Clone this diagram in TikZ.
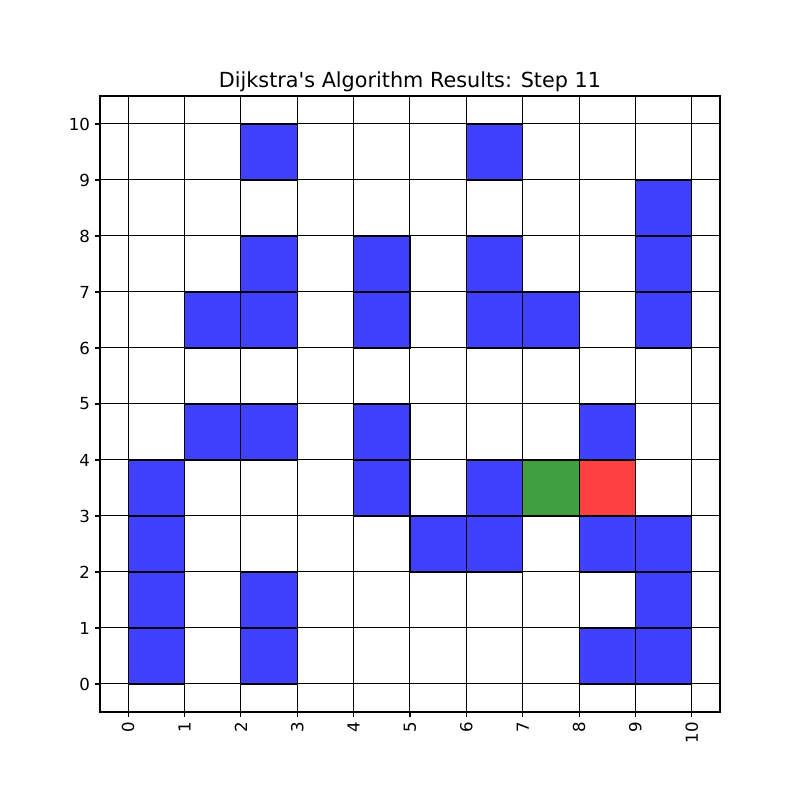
\documentclass[tikz,border=0pt]{standalone}
\usepackage{fontspec}
\setmainfont{DejaVu Sans}
\usetikzlibrary{positioning}

\definecolor{wallblue}{HTML}{4040FF}
\definecolor{startgreen}{HTML}{40A040}
\definecolor{goalred}{HTML}{FF4040}

\begin{document}
\begin{tikzpicture}[
    x=0.5636in, y=0.56in,
    gridline/.style={draw=black, line width=0.72pt},
    spine/.style={draw=black, line width=0.8pt},
    tickmark/.style={draw=black, line width=0.8pt},
    cell/.style={draw=black, line width=0.8pt},
    wall/.style={cell, fill=wallblue},
    startcell/.style={cell, fill=startgreen},
    goalcell/.style={cell, fill=goalred},
    ticklabel/.style={font=\fontsize{12}{14}\selectfont, inner sep=0pt}
]
\useasboundingbox (-2.2743,-2.0714) rectangle (11.920,12.214);

% walls
\foreach \cx/\cy in {2/9, 6/9, 9/8, 2/7, 4/7, 6/7, 9/7,
    1/6, 2/6, 4/6, 6/6, 7/6, 9/6,
    1/4, 2/4, 4/4, 8/4,
    0/3, 4/3, 6/3,
    0/2, 5/2, 6/2, 8/2, 9/2,
    0/1, 2/1, 9/1,
    0/0, 2/0, 8/0, 9/0}
  \draw[wall] (\cx,\cy) rectangle ++(1,1);

% start and goal
\draw[startcell] (7,3) rectangle ++(1,1);
\draw[goalcell] (8,3) rectangle ++(1,1);

% grid
\foreach \k in {0,...,10} {
  \draw[gridline] (\k,-0.5) -- (\k,10.5);
  \draw[gridline] (-0.5,\k) -- (10.5,\k);
}

% axes frame
\draw[spine] (-0.5,-0.5) rectangle (10.5,10.5);

% ticks and labels
\foreach \k in {0,...,10} {
  \draw[tickmark] (\k,-0.5) -- ++(0,-3.5pt);
  \node[ticklabel, rotate=90, anchor=east] (xl\k)
    at ([yshift=-7pt]\k,-0.5) {\k};
  \draw[tickmark] (-0.5,\k) -- ++(-3.5pt,0);
  \node[ticklabel, anchor=east] (yl\k)
    at ([xshift=-7pt]-0.5,\k) {\k};
}

\node[font=\fontsize{15}{18}\selectfont, inner sep=0pt, anchor=base] (title)
  at (5,10.649) {Dijkstra\textquotesingle s Algorithm Results: Step 11};

\end{tikzpicture}
\end{document}
